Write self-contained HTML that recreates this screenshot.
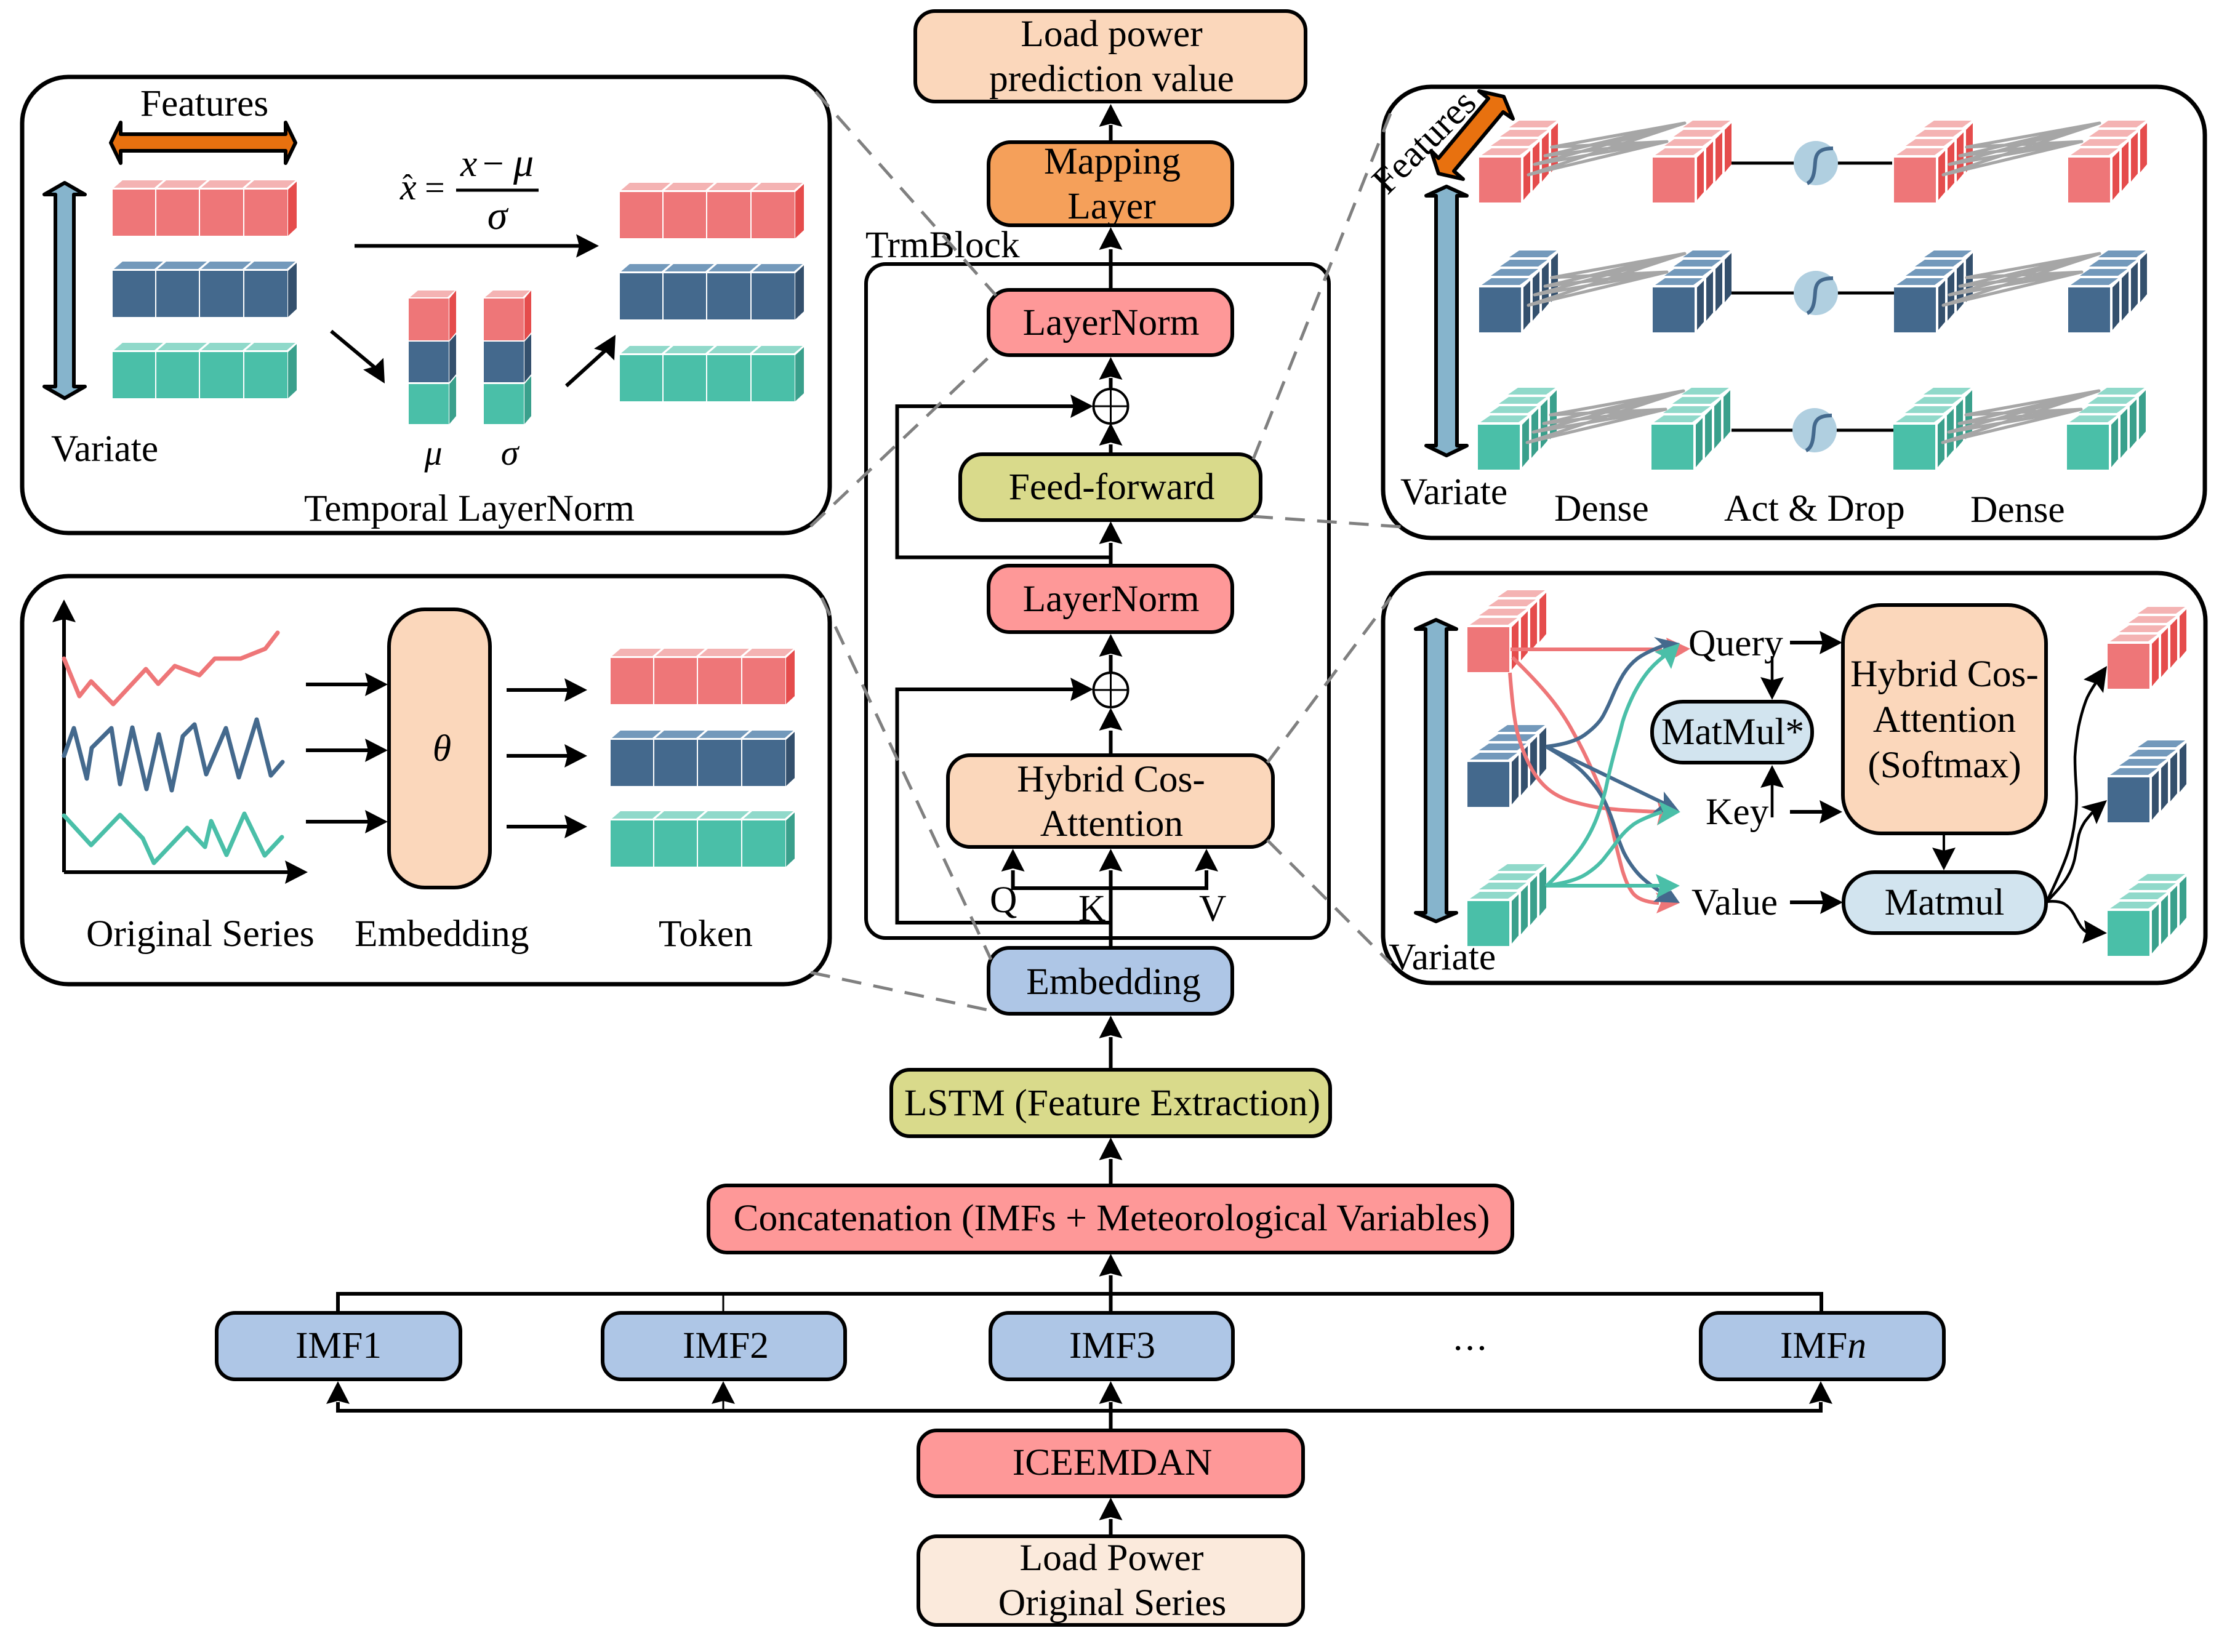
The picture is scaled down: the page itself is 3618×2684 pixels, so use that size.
<!DOCTYPE html>
<html><head><meta charset="utf-8"><style>
html,body{margin:0;padding:0;background:#fff}
svg{display:block}
text{font-family:"Liberation Serif","DejaVu Serif",serif;font-size:61.5px;fill:#000}
.m{text-anchor:middle}
.i{font-style:italic}
.b{stroke:#000;stroke-width:6}
.l{stroke:#000;stroke-width:6;fill:none}
.t{stroke:#000;stroke-width:4.5;fill:none}
.d{stroke:#808080;stroke-width:5;stroke-dasharray:32 20;fill:none}
</style></head><body>
<svg xmlns="http://www.w3.org/2000/svg" width="3618" height="2684" viewBox="0 0 3618 2684">
<defs>
<polygon id="ah" points="0,0 19,37 0,32 -19,37"/>
<g id="tp4"><polygon points="2,-3 68,-3 82,-15 16,-15"/><polygon points="73,-3 139,-3 153,-15 87,-15"/><polygon points="144,-3 211,-3 225,-15 158,-15"/><polygon points="216,-3 283,-3 297,-15 230,-15"/></g>
<g id="fr4"><rect x="0" width="69" height="75"/><rect x="71" width="69" height="75"/><rect x="142" width="70" height="75"/><rect x="214" width="70" height="75"/></g>
<polygon id="sd4" points="285,0 299,-13 299,62 285,75"/>
<g id="bR"><use href="#tp4" fill="#f4b3b3"/><use href="#fr4" fill="#ee7678"/><use href="#sd4" fill="#e54c4c"/></g>
<g id="bB"><use href="#tp4" fill="#7399bb"/><use href="#fr4" fill="#44698d"/><use href="#sd4" fill="#34506d"/></g>
<g id="bG"><use href="#tp4" fill="#90d9ca"/><use href="#fr4" fill="#4abfa8"/><use href="#sd4" fill="#3aa08c"/></g>
<g id="ct"><polygon points="4,-4 66,-4 81,-15 20,-15"/><polygon points="19,-19 81,-19 96,-30 35,-30"/><polygon points="34,-34 96,-34 111,-45 50,-45"/><polygon points="49,-49 111,-49 126,-60 65,-60"/></g>
<g id="cs"><polygon points="72,0 83,-11 83,56 72,69"/><polygon points="87,-15 98,-26 98,41 87,54"/><polygon points="102,-30 113,-41 113,26 102,39"/><polygon points="117,-45 128,-56 128,11 117,24"/></g>
<g id="cR"><use href="#ct" fill="#f4b3b3"/><use href="#cs" fill="#e54c4c"/><rect width="68" height="73" fill="#ee7678"/></g>
<g id="cB"><use href="#ct" fill="#7399bb"/><use href="#cs" fill="#34506d"/><rect width="68" height="73" fill="#44698d"/></g>
<g id="cG"><use href="#ct" fill="#90d9ca"/><use href="#cs" fill="#3aa08c"/><rect width="68" height="73" fill="#4abfa8"/></g>
<g id="wires" stroke="#a6a6a6" stroke-width="5" stroke-linecap="round" fill="none">
<path d="M118,-16L334,-55M107,-2L334,-55M90,12L334,-55M80,29L334,-55M118,-16L305,-25M107,-2L305,-25M90,12L305,-25M80,29L305,-25"/>
</g>
<g id="act"><circle r="36" fill="#b0cfe0"/><path d="M-14,33 C-2,28 -2,8 -1,-2 C0,-16 6,-24 28,-24" fill="none" stroke="#44698d" stroke-width="6"/></g>
<g id="mini">
<polygon points="2,11 63,11 75,0 15,0" fill="#f4b3b3"/>
<rect y="13" width="65" height="68" fill="#ee7678"/><rect y="83" width="65" height="66" fill="#44698d"/><rect y="152" width="65" height="65" fill="#4abfa8"/>
<polygon points="66,13 77,0 77,68 66,81" fill="#e54c4c"/><polygon points="66,83 77,71 77,136 66,149" fill="#34506d"/><polygon points="66,152 77,139 77,204 66,217" fill="#3aa08c"/>
</g>
</defs>
<rect width="3618" height="2684" fill="#fff"/>

<!-- Panels -->
<g fill="#fff" stroke="#000" stroke-width="7">
<rect x="36" y="125" width="1312" height="741" rx="75" ry="75"/>
<rect x="36" y="936" width="1312" height="663" rx="75" ry="75"/>
<rect x="2247" y="141" width="1335" height="733" rx="78" ry="78"/>
<rect x="2247" y="931" width="1336" height="666" rx="78" ry="78"/>
</g>

<!-- Panel 1 -->
<polygon class="b" fill="#e8710f" stroke-linejoin="round" points="180,232 196,199 196,218 464,218 464,199 480,232 464,265 464,245 196,245 196,265"/>
<polygon class="b" fill="#86b4cc" stroke-linejoin="round" points="105,297 138,316 120,316 120,628 138,628 105,647 72,628 90,628 90,316 72,316"/>
<text class="m" x="332" y="188">Features</text>
<use href="#bR" x="183" y="308"/><use href="#bB" x="183" y="440"/><use href="#bG" x="183" y="572"/>
<use href="#bR" x="1007" y="312"/><use href="#bB" x="1007" y="444"/><use href="#bG" x="1007" y="577"/>
<g transform="translate(664,472)"><use href="#mini"/></g><g transform="translate(786,472)"><use href="#mini"/></g>
<path class="l" d="M576,399.500H945"/><use href="#ah" transform="translate(973,399.500) rotate(90)"/>
<path class="l" d="M538,538L610,598"/><use href="#ah" transform="translate(625,623) rotate(150)"/>
<path class="l" d="M920,627L985,568"/><use href="#ah" transform="translate(1000,544) rotate(30)"/>
<text class="i" x="650" y="324" style="font-size:60px">x</text><text x="654" y="318" style="font-size:50px">ˆ</text>
<text x="690" y="324" style="font-size:58px">=</text>
<path d="M741,309H875" stroke="#000" stroke-width="5"/>
<text class="i" x="748" y="286">x</text><text x="784" y="286">−</text><text class="i" x="834" y="286" style="font-size:66px">μ</text>
<text class="m i" x="808" y="372" style="font-size:66px">σ</text>
<text class="m i" x="704" y="755" style="font-size:58px">μ</text><text class="m i" x="828" y="755" style="font-size:58px">σ</text>
<text x="83" y="749">Variate</text>
<text x="494" y="846">Temporal LayerNorm</text>

<!-- Panel 2 -->
<path class="l" d="M104,1417V1005M104,1417H470"/>
<use href="#ah" transform="translate(104,974)"/><use href="#ah" transform="translate(500,1417) rotate(90)"/>
<g fill="none" stroke-width="7" stroke-linejoin="round" stroke-linecap="round">
<polyline stroke="#ee7678" points="104,1070 129,1131 148,1107 184,1144 237,1087 257,1111 284,1082 324,1097 349,1070 391,1070 431,1054 451,1028"/>
<polyline stroke="#44698d" points="104,1228 120,1183 141,1265 149,1215 181,1183 195,1274 215,1182 238,1282 258,1193 279,1284 297,1196 316,1177 335,1258 367,1183 388,1263 417,1169 440,1260 459,1238"/>
<polyline stroke="#4abfa8" points="104,1325 148,1373 195,1324 232,1362 250,1402 304,1345 333,1376 343,1334 368,1389 397,1322 430,1390 458,1360"/>
</g>
<g class="l"><path d="M497,1112H600M497,1219H600M497,1335H600M823,1121H925M823,1228H925M823,1343H925"/></g>
<use href="#ah" transform="translate(630,1112) rotate(90)"/><use href="#ah" transform="translate(630,1219) rotate(90)"/><use href="#ah" transform="translate(630,1335) rotate(90)"/>
<use href="#ah" transform="translate(954,1121) rotate(90)"/><use href="#ah" transform="translate(954,1228) rotate(90)"/><use href="#ah" transform="translate(954,1343) rotate(90)"/>
<rect class="b" x="632" y="990" width="164" height="452" rx="58" ry="60" fill="#fbd7bb"/>
<text class="m i" x="718" y="1236">θ</text>
<use href="#bR" x="992" y="1069"/><use href="#bB" x="992" y="1202"/><use href="#bG" x="992" y="1333"/>
<text x="140" y="1537">Original Series</text><text x="576" y="1537">Embedding</text><text x="1070" y="1537">Token</text>

<!-- Panel 3 -->
<use href="#cR" x="2403" y="256"/><use href="#cR" x="2685" y="256"/><use href="#cR" x="3077" y="256"/><use href="#cR" x="3360" y="256"/>
<use href="#cB" x="2403" y="467"/><use href="#cB" x="2685" y="467"/><use href="#cB" x="3077" y="467"/><use href="#cB" x="3360" y="467"/>
<use href="#cG" x="2401" y="690"/><use href="#cG" x="2683" y="690"/><use href="#cG" x="3076" y="690"/><use href="#cG" x="3358" y="690"/>
<use href="#wires" x="2403" y="255"/><use href="#wires" x="3077" y="255"/>
<use href="#wires" x="2403" y="467"/><use href="#wires" x="3077" y="467"/>
<use href="#wires" x="2401" y="690"/><use href="#wires" x="3076" y="690"/>
<g class="l" style="stroke-width:5"><path d="M2813,265H2915M2985,265H3074M2813,476H2915M2985,476H3077M2813,699H2915M2983,699H3076"/></g>
<use href="#act" x="2950" y="265"/><use href="#act" x="2950" y="476"/><use href="#act" x="2948" y="699"/>
<polygon class="b" fill="#e8710f" stroke-linejoin="round" points="2403,148 2443,157 2458,193 2442,182 2362,278 2377,291 2337,282 2325,245 2337,257 2418,160"/>
<polygon class="b" fill="#86b4cc" stroke-linejoin="round" points="2350,303 2383,318 2367,318 2367,724 2383,724 2350,740 2317,724 2333,724 2333,318 2317,318"/>
<text transform="translate(2254,318) rotate(-45)">Features</text>
<text x="2275" y="819">Variate</text><text x="2525" y="846">Dense</text><text x="2801" y="846">Act &amp; Drop</text><text x="3201" y="848">Dense</text>

<!-- Panel 4 -->
<polygon class="b" fill="#86b4cc" stroke-linejoin="round" points="2333,1007 2366,1022 2350,1022 2350,1483 2366,1483 2333,1497 2300,1483 2316,1483 2316,1022 2300,1022"/>
<use href="#cR" x="2384" y="1019"/><use href="#cB" x="2384" y="1238"/><use href="#cG" x="2384" y="1464"/>
<use href="#cR" x="3424" y="1046"/><use href="#cB" x="3424" y="1263"/><use href="#cG" x="3424" y="1480"/>
<g fill="none" stroke="#ee7678" stroke-width="6">
<path d="M2454,1055H2700"/>
<path d="M2453,1093 Q2458,1160 2465,1190 Q2473,1220 2485,1243 Q2497,1267 2515,1282 Q2533,1297 2561,1304 Q2590,1312 2615,1314 Q2640,1317 2695,1319"/>
<path d="M2457,1068 Q2497,1107 2518,1133 Q2540,1160 2556,1190 Q2573,1220 2586,1250 Q2600,1280 2608,1306 Q2617,1333 2623,1363 Q2630,1393 2636,1415 Q2643,1437 2650,1447 Q2660,1465 2695,1467"/>
</g>
<polygon fill="#ee7678" points="2746,1054 2707,1036 2712,1055 2722,1068"/>
<polygon fill="#ee7678" points="2729,1319 2692,1300 2697,1319 2692,1341"/>
<polygon fill="#ee7678" points="2729,1467 2690,1450 2698,1467 2691,1484"/>
<g fill="none" stroke="#44698d" stroke-width="6">
<path d="M2512,1213 Q2557,1208 2577,1192 Q2597,1177 2605,1162 Q2613,1147 2620,1130 Q2627,1113 2637,1096 Q2647,1080 2660,1070 Q2673,1060 2707,1047"/>
<path d="M2512,1213L2707,1307"/>
<path d="M2512,1213 Q2553,1237 2570,1253 Q2587,1270 2597,1285 Q2607,1300 2613,1316 Q2620,1333 2625,1350 Q2630,1367 2638,1385 Q2647,1403 2660,1418 Q2673,1433 2700,1450"/>
</g>
<polygon fill="#44698d" points="2729,1045 2687,1035 2703,1050 2697,1072"/>
<polygon fill="#44698d" points="2729,1319 2703,1286 2703,1305 2685,1320"/>
<polygon fill="#44698d" points="2729,1467 2715,1447 2700,1452 2686,1465"/>
<g fill="none" stroke="#4abfa8" stroke-width="6">
<path d="M2512,1440 Q2553,1400 2570,1375 Q2587,1350 2597,1321 Q2607,1293 2612,1266 Q2618,1240 2624,1218 Q2630,1197 2636,1173 Q2643,1150 2655,1126 Q2667,1103 2680,1088 Q2693,1073 2712,1060"/>
<path d="M2512,1439 Q2557,1433 2577,1420 Q2597,1407 2608,1392 Q2620,1377 2630,1363 Q2640,1350 2653,1340 Q2667,1330 2700,1319"/>
<path d="M2512,1439H2700"/>
</g>
<polygon fill="#4abfa8" points="2729,1045 2688,1059 2705,1068 2715,1087"/>
<polygon fill="#4abfa8" points="2730,1319 2695,1302 2702,1320 2692,1341"/>
<polygon fill="#4abfa8" points="2729,1439 2690,1420 2697,1439 2691,1459"/>
<text x="2743" y="1065">Query</text><text x="2771" y="1339">Key</text><text x="2748" y="1486">Value</text><text x="2256" y="1575">Variate</text>
<rect class="b" x="2684" y="1140" width="260" height="99" rx="50" ry="48" fill="#d2e4ef"/>
<text class="m" x="2815" y="1209">MatMul*</text>
<rect class="b" x="2994" y="983" width="330" height="371" rx="62" ry="62" fill="#fbd7bb"/>
<text class="m" x="3159" y="1115">Hybrid Cos-</text><text class="m" x="3159" y="1189">Attention</text><text class="m" x="3159" y="1263">(Softmax)</text>
<rect class="b" x="2995" y="1417" width="329" height="99" rx="50" ry="48" fill="#d2e4ef"/>
<text class="m" x="3159" y="1486">Matmul</text>
<g class="l"><path d="M2908,1044H2965M2908,1319H2965M2908,1466H2965"/></g>
<use href="#ah" transform="translate(2993,1044) rotate(90)"/><use href="#ah" transform="translate(2993,1319) rotate(90)"/><use href="#ah" transform="translate(2994,1466) rotate(90)"/>
<path class="t" d="M2879,1066V1110M2879,1328V1270"/>
<use href="#ah" transform="translate(2879,1137) rotate(180)"/><use href="#ah" transform="translate(2879,1243)"/>
<path class="l" style="stroke-width:4" d="M3158,1356V1385"/><use href="#ah" transform="translate(3158,1414) rotate(180)"/>
<g fill="none" stroke="#000" stroke-width="4.500">
<path d="M3325,1465 Q3350,1413 3359,1386 Q3368,1359 3371,1332 Q3375,1306 3373,1279 Q3371,1252 3371,1230 Q3372,1209 3377,1180 Q3383,1152 3391,1133 Q3400,1115 3410,1103"/>
<path d="M3325,1465 Q3350,1440 3359,1424 Q3368,1409 3371,1393 Q3374,1377 3376,1363 Q3378,1349 3387,1335 Q3397,1322 3405,1314"/>
<path d="M3325,1465 Q3343,1463 3353,1468 Q3363,1474 3369,1485 Q3375,1497 3381,1506 Q3388,1515 3395,1516"/>
</g>
<polygon points="3423,1082 3385,1104 3406,1111 3417,1126"/>
<polygon points="3423,1300 3381,1311 3398,1318 3406,1339"/>
<polygon points="3423,1516 3386,1495 3389,1515 3383,1533"/>

<!-- Centre column -->
<rect x="1407" y="429" width="752" height="1095" rx="32" ry="32" fill="#fff" stroke="#000" stroke-width="6"/>
<text x="1406" y="418">TrmBlock</text>
<g class="l">
<path d="M1804.500,203V231M1804.500,405V471M1804.500,614V632M1804.500,722V738M1804.500,882V919M1804.500,1064V1093M1804.500,1187V1227"/>
<path d="M1804.500,1414V1540M1804.500,1499H1457.500V1120H1745M1804.500,905.500H1457.500V660H1745"/>
<path d="M1645.600,1414V1443H1960V1414"/>
<path d="M1804.500,1685V1738M1804.500,1883V1926M1804.500,2072V2133M1804.500,2278V2324M1804.500,2468V2496"/>
<path d="M549,2133V2102H2959V2133M549,2278V2292H2958V2278"/>
</g>
<path d="M1175,2102V2133M1175,2292V2270" stroke="#000" stroke-width="3" fill="none"/>
<g>
<use href="#ah" x="1804.500" y="169"/><use href="#ah" x="1804.500" y="369"/><use href="#ah" x="1804.500" y="580"/>
<use href="#ah" x="1804.500" y="687"/><use href="#ah" x="1804.500" y="847"/><use href="#ah" x="1804.500" y="1030"/>
<use href="#ah" x="1804.500" y="1150"/><use href="#ah" x="1804.500" y="1379"/><use href="#ah" x="1645.600" y="1379"/><use href="#ah" x="1960" y="1379"/>
<use href="#ah" x="1804.500" y="1650"/><use href="#ah" x="1804.500" y="1848"/><use href="#ah" x="1804.500" y="2037"/>
<use href="#ah" x="549" y="2244"/><use href="#ah" x="1175" y="2244"/><use href="#ah" x="1804.500" y="2244"/><use href="#ah" x="2958" y="2244"/>
<use href="#ah" x="1804.500" y="2433"/>
<use href="#ah" transform="translate(1776,660) rotate(90)"/><use href="#ah" transform="translate(1776,1120) rotate(90)"/>
</g>
<g fill="#fff" stroke="#000" stroke-width="4"><circle cx="1804.500" cy="660" r="28"/><circle cx="1804.500" cy="1121" r="28"/></g>
<path d="M1776,660H1833M1804.500,632V688M1776,1121H1833M1804.500,1093V1149" stroke="#000" stroke-width="3"/>

<g class="b">
<rect x="1487" y="18" width="634" height="147" rx="32" ry="32" fill="#fbd7bb"/>
<rect x="1606" y="231" width="396" height="135" rx="36" ry="36" fill="#f5a05a"/>
<rect x="1606" y="471" width="396" height="106" rx="34" ry="34" fill="#fe9898"/>
<rect x="1560" y="738" width="488" height="107" rx="36" ry="36" fill="#d9da8b"/>
<rect x="1606" y="919" width="396" height="108" rx="34" ry="34" fill="#fe9898"/>
<rect x="1540" y="1227" width="528" height="149" rx="36" ry="36" fill="#fbd7bb"/>
<rect x="1606" y="1540" width="396" height="107" rx="34" ry="34" fill="#aec6e6"/>
<rect x="1448" y="1738" width="713" height="108" rx="30" ry="30" fill="#d9da8b"/>
<rect x="1151" y="1926" width="1306" height="109" rx="30" ry="30" fill="#fe9898"/>
<rect x="352" y="2133" width="396" height="108" rx="30" ry="30" fill="#aec6e6"/>
<rect x="979" y="2133" width="394" height="108" rx="30" ry="30" fill="#aec6e6"/>
<rect x="1609" y="2133" width="394" height="108" rx="30" ry="30" fill="#aec6e6"/>
<rect x="2763" y="2133" width="395" height="108" rx="30" ry="30" fill="#aec6e6"/>
<rect x="1492" y="2324" width="625" height="107" rx="30" ry="30" fill="#fe9898"/>
<rect x="1492" y="2496" width="625" height="144" rx="30" ry="30" fill="#fbeadc"/>
</g>
<path class="l" d="M1804.500,1414V1540"/>

<g>
<text class="m" x="1806" y="75">Load power</text><text class="m" x="1806" y="148">prediction value</text>
<text class="m" x="1807" y="282">Mapping</text><text class="m" x="1806" y="355">Layer</text>
<text class="m" x="1805" y="544">LayerNorm</text>
<text class="m" x="1806" y="811">Feed-forward</text>
<text class="m" x="1805" y="993">LayerNorm</text>
<text class="m" x="1805" y="1286">Hybrid Cos-</text><text class="m" x="1806" y="1358">Attention</text>
<text class="m" x="1809" y="1615">Embedding</text>
<text class="m" x="1807" y="1812">LSTM (Feature Extraction)</text>
<text class="m" x="1806" y="1999">Concatenation (IMFs + Meteorological Variables)</text>
<text class="m" x="550" y="2206">IMF1</text><text class="m" x="1179" y="2206">IMF2</text><text class="m" x="1807" y="2206">IMF3</text>
<text class="m" x="2390" y="2193" style="letter-spacing:4px">...</text>
<text class="m" x="2962" y="2206">IMF<tspan class="i">n</tspan></text>
<text class="m" x="1807" y="2396">ICEEMDAN</text>
<text class="m" x="1806" y="2551">Load Power</text><text class="m" x="1807" y="2624">Original Series</text>
</g>
<text x="1608" y="1482">Q</text><text x="1752" y="1496">K</text><text x="1948" y="1496">V</text>

<!-- Dashed callouts -->
<g class="d">
<path d="M1325,149L1618,480"/>
<path d="M1317,855L1610,577"/>
<path d="M1335,971L1610,1559"/>
<path d="M1317,1580L1610,1642"/>
<path d="M2036,746L2260,182"/>
<path d="M2036,839L2278,856"/>
<path d="M2059,1239L2260,970"/>
<path d="M2059,1365L2260,1566"/>
</g>
</svg>
</body></html>
